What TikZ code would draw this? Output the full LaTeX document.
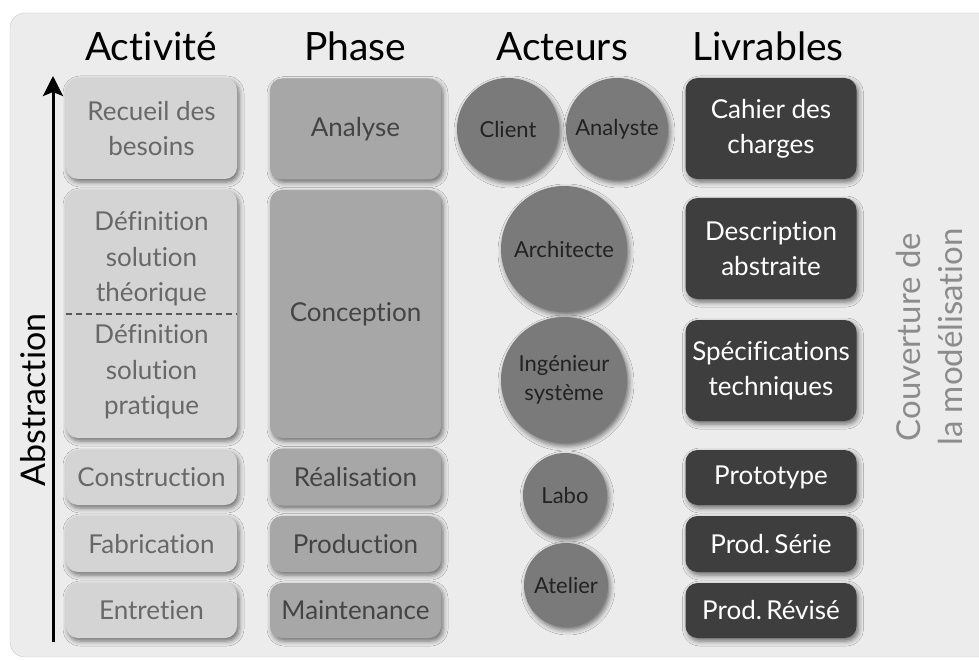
\documentclass[tikz,border=0pt]{standalone}
\usepackage{fontspec}
\setmainfont{Lato}[Ligatures=NoCommon]
\usetikzlibrary{arrows.meta,shadows.blur}
\definecolor{fond}{HTML}{ECECEC}
\definecolor{activ}{HTML}{D4D4D4}
\definecolor{activtxt}{HTML}{686868}
\definecolor{phasefill}{HTML}{A7A7A7}
\definecolor{phasetxt}{HTML}{444444}
\definecolor{acteur}{HTML}{7A7A7A}
\definecolor{acteurtxt}{HTML}{222222}
\definecolor{livr}{HTML}{3E3E3E}
\definecolor{couv}{HTML}{8C8C8C}
\begin{document}
\begin{tikzpicture}[x=1pt, y=-1pt,
  ombre/.style={blur shadow={shadow xshift=2pt, shadow yshift=-3pt,
      shadow blur radius=5pt, shadow opacity=55}},
  titre/.style={font=\fontsize{39}{44}\selectfont, anchor=base},
  boite/.style={rounded corners=12pt, minimum width=171pt, inner sep=0pt,
      align=center, ombre, font=\fontsize{26}{35}\selectfont},
  activbox/.style={boite, fill=activ, text=activtxt},
  phasebox/.style={boite, fill=phasefill, text=phasetxt},
  livrbox/.style={boite, fill=livr, text=white},
  rond/.style={circle, inner sep=0pt, fill=acteur, text=acteurtxt, align=center,
      ombre, font=\fontsize{22}{29}\selectfont}]
  \useasboundingbox (0,0) rectangle (979,660);
  % fond
  \fill[white] (0,0) rectangle (979,660);
  \draw[fond!85!black, fill=fond, rounded corners=15pt] (10,13) rectangle (995,657);
  % titres des colonnes
  \node[titre] (tact) at (151,61) {Activité};
  \node[titre] (tpha) at (355,61) {Phase};
  \node[titre] (tact2) at (562,61) {Acteurs};
  \node[titre] (tliv) at (768,61) {Livrables};
  % axe d'abstraction
  \coordinate (bas) at (53,642);
  \coordinate (haut) at (53,76);
  \draw[line width=3pt, -{Stealth[length=20pt, width=20pt, inset=4pt]}] (bas) -- (haut);
  \node[rotate=90, font=\fontsize{34}{40}\selectfont, anchor=base] (abstr) at (45,400) {Abstraction};
  % activites
  \node[activbox, minimum height=101pt] (recueil) at (151.5,128.5) {Recueil des\\besoins};
  \node[activbox, minimum height=248pt] (defin) at (151.5,314) {};
  \node[text=activtxt, align=center, font=\fontsize{26}{35.5}\selectfont] (theor) at (151.5,259) {Définition\\solution\\théorique};
  \node[text=activtxt, align=center, font=\fontsize{26}{35.5}\selectfont] (prat) at (151.5,372) {Définition\\solution\\pratique};
  \draw[dashed, line width=1.2pt, dash pattern=on 6pt off 4pt, black!65] (defin.west) -- (defin.east);
  \foreach \nom/\txt/\y/\h in {constr/Construction/477.5/55, fabr/Fabrication/544/56, entr/Entretien/610.5/55}
    \node[activbox, minimum height=\h pt] (\nom) at (151.5,\y) {\txt};
  % phases
  \node[phasebox, minimum height=101pt] (analyse) at (355.5,129) {Analyse};
  \node[phasebox, minimum height=248pt] (concep) at (355.5,314) {Conception};
  \foreach \nom/\txt/\y/\h in {real/Réalisation/477/57, prod/Production/544/56, maint/Maintenance/610.5/55}
    \node[phasebox, minimum height=\h pt] (\nom) at (355.5,\y) {\txt};
  % acteurs
  \node[rond, minimum size=102pt] (client) at (508,129) {Client};
  \node[rond, minimum size=102pt] (analyste) at (617,129) {Analyste};
  \node[rond, minimum size=126pt] (archi) at (564,249) {Architecte};
  \node[rond, minimum size=126pt] (inge) at (564,380) {Ingénieur\\système};
  \node[rond, minimum size=84pt] (labo) at (565,495) {Labo};
  \node[rond, minimum size=84pt] (atelier) at (566,585) {Atelier};
  % livrables
  \node[livrbox, minimum height=101pt] (cahier) at (771,128.5) {Cahier des\\charges};
  \node[livrbox, minimum height=101pt] (descr) at (771,248.5) {Description\\abstraite};
  \node[livrbox, minimum height=101pt] (specif) at (771,370.5) {Spécifications\\techniques};
  \foreach \nom/\txt/\y/\h in {proto/Prototype/477.5/55, serie/Prod.\,Série/544/56, revise/Prod.\,Révisé/610.5/55}
    \node[livrbox, minimum height=\h pt] (\nom) at (771,\y) {\txt};
  % couverture
  \node[rotate=90, text=couv, align=center, font=\fontsize{33}{42}\selectfont] (couvert) at (929,337) {Couverture de\\la modélisation};
\end{tikzpicture}
\end{document}
